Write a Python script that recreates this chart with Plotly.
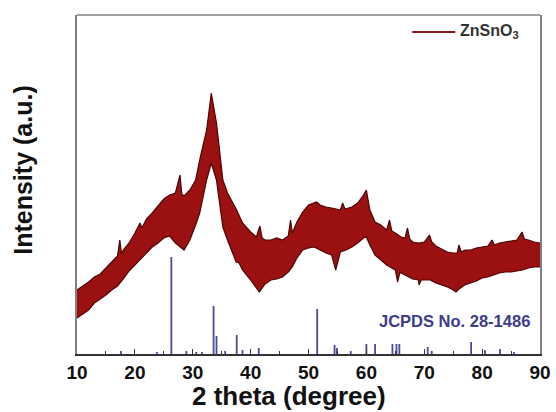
import plotly.graph_objects as go

# ---- data (intensity in arbitrary units) ----
# upper edge of the noisy ZnSnO3 pattern
top_x = [10.0, 11.0, 12.0, 13.0, 14.0, 15.0, 16.0, 17.0, 17.4, 17.7, 18.0, 19.0, 20.0, 20.9, 21.2,
         22.0, 23.0, 24.0, 25.0, 26.0, 27.0, 27.8, 28.1, 28.5, 29.5, 30.5, 31.2, 32.4, 33.2, 34.1,
         35.2, 36.0, 36.9, 37.5, 38.6, 40.0, 41.0, 41.6, 42.0, 42.5, 43.5, 44.5, 45.5, 46.5, 46.9,
         47.2, 48.0, 49.0, 50.0, 51.0, 51.4, 52.0, 53.0, 54.0, 55.5, 55.9, 56.3, 57.5, 58.5, 59.5,
         60.0, 60.6, 61.5, 62.5, 63.5, 64.0, 64.4, 65.0, 66.0, 66.7, 67.1, 67.5, 68.0, 69.0, 70.0,
         70.9, 71.3, 72.0, 73.0, 74.0, 75.0, 75.7, 76.0, 76.4, 77.0, 78.0, 79.0, 80.0, 81.0, 81.7,
         82.1, 83.0, 84.0, 85.0, 86.0, 86.9, 87.3, 88.0, 89.0, 90.0]
top_y = [64, 68, 72, 77, 80, 86, 92, 98, 114, 100, 104, 111, 121, 131, 126,
         135, 141, 148, 155, 159, 161, 179, 160, 158, 164, 174, 194, 224, 261, 231,
         174, 161, 152, 145, 131, 122, 117, 128, 116, 114, 114, 116, 114, 118, 134,
         121, 132, 142, 149, 151, 152, 149, 147, 146, 144, 151, 145, 147, 151, 159,
         164, 144, 132, 129, 124, 134, 123, 121, 117, 116, 126, 115, 112, 111, 112,
         119, 112, 108, 105, 102, 101, 101, 109, 102, 104, 104, 106, 107, 108, 114,
         109, 111, 112, 113, 114, 122, 115, 114, 112, 111]
# lower edge of the noisy ZnSnO3 pattern
bot_x = [10.0, 11.0, 12.0, 13.0, 14.0, 15.0, 16.0, 17.0, 18.0, 19.0, 20.0, 21.0, 22.0, 23.0, 24.0,
         25.0, 26.0, 27.0, 28.5, 29.5, 30.5, 31.2, 32.4, 33.2, 34.1, 35.2, 36.0, 36.9, 37.5, 38.0,
         38.6, 40.0, 41.0, 41.5, 42.5, 43.5, 44.5, 45.5, 46.5, 47.2, 48.0, 49.0, 50.0, 51.0, 52.0,
         53.0, 54.0, 54.7, 55.5, 56.5, 57.5, 58.5, 59.5, 60.0, 60.6, 61.5, 62.5, 63.5, 65.0, 65.4,
         65.8, 66.0, 67.0, 68.0, 69.0, 69.1, 69.5, 70.0, 71.0, 72.0, 73.0, 74.0, 75.0, 75.5, 76.0,
         77.0, 78.0, 79.0, 80.0, 81.0, 82.0, 83.0, 84.0, 85.0, 86.0, 87.0, 88.0, 89.0, 90.0]
bot_y = [36, 40, 44, 51, 55, 59, 64, 68, 75, 83, 89, 95, 101, 107, 111,
         116, 118, 111, 104, 114, 129, 141, 174, 191, 174, 127, 114, 101, 92, 91,
         84, 74, 66, 62, 70, 74, 75, 77, 82, 87, 96, 104, 106, 107, 104,
         101, 99, 84, 102, 104, 107, 111, 116, 117, 109, 99, 94, 89, 84, 72,
         82, 81, 78, 75, 74, 69, 74, 74, 74, 71, 69, 67, 64, 62, 65,
         69, 71, 73, 76, 77, 79, 81, 82, 82, 83, 84, 86, 87, 87]

# JCPDS No. 28-1486 reference lines
ref_pos = [17.6, 23.8, 26.3, 28.9, 30.6, 31.6, 33.6, 34.1, 35.6, 37.6, 38.6, 41.4, 51.5, 54.5,
           54.9, 57.3, 60.0, 61.5, 64.5, 65.2, 65.7, 70.6, 71.3, 78.1, 80.5, 83.1, 85.5]
ref_int = [3, 2, 97, 3, 2, 2, 48, 18, 3, 19, 4, 6, 45, 9,
           6, 3, 10, 10, 10, 10, 10, 7, 3, 12, 4, 5, 2]

x_ticks = [10, 20, 30, 40, 50, 60, 70, 80, 90]

# ---- figure ----
font_fam = "Liberation Sans, Arial, sans-serif"
RED = "#9b1010"
EDGE = "#4e0404"
LEG_RED = "#8b1a1a"

fig = go.Figure()

fig.add_trace(go.Scatter(
    x=top_x, y=top_y, mode="lines", name="ZnSnO3 upper",
    line=dict(color=EDGE, width=1.2), showlegend=False, hoverinfo="skip"))
fig.add_trace(go.Scatter(
    x=bot_x, y=bot_y, mode="lines", fill="tonexty", fillcolor=RED, name="ZnSnO3",
    line=dict(color=EDGE, width=1.2), showlegend=False, hoverinfo="skip"))

# sticks
sx, sy = [], []
for p, h in zip(ref_pos, ref_int):
    sx += [p, p, None]
    sy += [0, h, None]
fig.add_trace(go.Scatter(x=sx, y=sy, mode="lines",
                         line=dict(color="#4a4a9a", width=1.8),
                         showlegend=False, hoverinfo="skip"))

# legend (line sample + label)
fig.add_shape(type="line", xref="paper", yref="paper", x0=0.724, x1=0.817, y0=0.950, y1=0.950,
              line=dict(color=LEG_RED, width=2))
fig.add_annotation(xref="paper", yref="paper", x=0.822, y=0.950, xanchor="left", yanchor="middle",
                   text="<b>ZnSnO<sub>3</sub></b>", showarrow=False,
                   font=dict(family=font_fam, size=16, color="#333"))

fig.add_annotation(x=88.6, y=33, xref="x", yref="y", text="<b>JCPDS No. 28-1486</b>",
                   showarrow=False, xanchor="right", yanchor="middle",
                   font=dict(family=font_fam, size=16.5, color="#3c3c8c"))

# axis titles
fig.add_annotation(xref="paper", yref="paper", x=0.458, y=-0.124, xanchor="center", yanchor="middle",
                   text="<b>2 theta (degree)</b>", showarrow=False,
                   font=dict(family=font_fam, size=26, color="#111"))
fig.add_annotation(xref="paper", yref="paper", x=-0.117, y=0.543, xanchor="center", yanchor="middle",
                   text="<b>Intensity (a.u.)</b>", showarrow=False, textangle=-90,
                   font=dict(family=font_fam, size=25, color="#111"))

# top frame line (grey)
fig.add_shape(type="line", xref="paper", yref="paper", x0=0, x1=1, y0=1, y1=1,
              line=dict(color="#808080", width=1.5))

fig.update_layout(
    width=556, height=412,
    margin=dict(l=77, r=16, t=15, b=58),
    paper_bgcolor="white", plot_bgcolor="white",
    font=dict(family=font_fam, color="#222"),
    showlegend=False,
    xaxis=dict(range=[10, 90], tickvals=x_ticks, ticktext=[str(t) for t in x_ticks],
               automargin=False,
               showgrid=False, zeroline=False, showline=True, linecolor="#333", linewidth=1.5,
               ticks="inside", ticklen=5, tickwidth=1.3, tickcolor="#333",
               minor=dict(dtick=5, ticks="inside", ticklen=3, tickwidth=1, tickcolor="#333"),
               tickfont=dict(size=19, weight="bold", color="#111")),
    yaxis=dict(range=[0, 339], showticklabels=False, ticks="", showgrid=False, zeroline=False,
               automargin=False,
               showline=True, linecolor="#808080", linewidth=1.5, mirror=True),
)

fig.write_html("out.html", config={"displayModeBar": False},
               post_script="document.body.style.margin='0';document.body.style.overflow='hidden';")
